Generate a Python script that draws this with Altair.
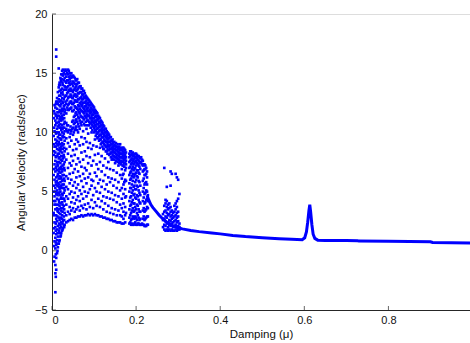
import altair as alt
import pandas as pd

# ---- chaotic region: columns of damping value and the velocities sampled there ----
CHAOS_X = [0.004, 0.006, 0.008, 0.010, 0.012, 0.014, 0.016, 0.018, 0.020, 0.022,
           0.024, 0.026, 0.028, 0.030, 0.034, 0.038, 0.042, 0.046, 0.050, 0.054,
           0.058, 0.062, 0.066, 0.070, 0.074, 0.078, 0.082, 0.086, 0.090, 0.094,
           0.098, 0.102, 0.106, 0.110, 0.114, 0.118, 0.122, 0.126, 0.130, 0.134,
           0.138, 0.142, 0.146, 0.150, 0.154, 0.158, 0.162, 0.166, 0.170, 0.174,
           0.184, 0.188, 0.192, 0.196, 0.200, 0.204, 0.208, 0.212, 0.216, 0.220,
           0.224, 0.228]
CHAOS_Y = [
    [1.5, 3.2, 5.0, 6.4, 8.1, 9.7, 11.2],
    [-0.5, 0.8, 2.4, 3.9, 4.6, 6.0, 7.3, 8.8, 10.1, 11.6, 12.3],
    [-3.5, -1.9, -1.2, 0.2, 1.1, 2.0, 3.5, 4.2, 5.3, 6.7, 7.6, 8.3, 9.4, 10.6, 11.0, 12.1],
    [-1.6, -0.6, 0.5, 1.4, 2.7, 3.0, 4.8, 5.6, 6.2, 7.1, 8.0, 9.1, 9.9, 10.8, 11.5, 12.6, 16.4, 17.0],
    [-0.2, 0.9, 1.8, 2.5, 3.6, 4.4, 5.1, 5.9, 6.8, 7.5, 8.6, 9.3, 10.3, 11.2, 12.0, 12.9],
    [0.3, 1.2, 2.1, 3.3, 3.9, 4.9, 5.7, 6.5, 7.2, 8.2, 8.9, 9.6, 10.5, 11.4, 12.4, 13.4],
    [0.6, 1.5, 2.8, 3.5, 4.3, 5.4, 6.1, 6.9, 7.8, 8.5, 9.2, 10.0, 10.9, 11.7, 12.8, 13.8, 15.4],
    [0.9, 1.9, 2.6, 3.8, 4.7, 5.2, 6.3, 7.0, 7.9, 8.7, 9.5, 10.4, 11.1, 11.9, 12.6, 13.5, 14.2],
    [1.2, 2.2, 3.1, 4.0, 5.0, 5.8, 6.6, 7.4, 8.4, 9.0, 9.8, 10.7, 11.3, 12.2, 13.1, 14.0, 14.6],
    [1.5, 2.4, 3.4, 4.5, 5.5, 6.2, 7.1, 8.0, 8.8, 9.4, 10.2, 11.0, 11.6, 12.4, 13.3, 14.3, 14.9],
    [1.7, 2.7, 3.0, 4.1, 4.8, 5.9, 6.7, 7.6, 8.3, 9.1, 10.0, 10.6, 11.4, 12.0, 12.9, 13.7, 14.5, 15.2],
    [1.9, 2.5, 3.6, 4.4, 5.3, 6.0, 6.9, 7.8, 8.6, 9.7, 10.4, 11.2, 11.9, 12.5, 13.2, 14.0, 14.8, 15.3],
    [2.1, 2.9, 3.8, 4.9, 5.6, 6.4, 7.3, 8.1, 9.0, 9.9, 10.7, 11.5, 12.2, 12.8, 13.6, 14.4, 15.0],
    [2.2, 3.2, 4.2, 5.1, 5.9, 6.8, 7.5, 8.4, 9.3, 10.1, 10.9, 11.7, 12.3, 13.0, 13.9, 14.6, 15.2],
    [2.4, 3.0, 3.9, 4.6, 5.4, 6.3, 7.7, 8.6, 9.5, 10.3, 10.8, 11.6, 12.4, 13.1, 13.6, 14.2, 14.7, 15.2],
    [2.5, 3.3, 4.4, 5.2, 6.1, 7.0, 8.2, 9.1, 10.0, 10.6, 11.9, 12.3, 12.9, 13.4, 13.9, 14.4, 14.9, 15.3],
    [2.6, 3.1, 3.7, 4.8, 5.7, 6.5, 7.4, 8.8, 9.6, 10.2, 12.0, 12.5, 13.0, 13.5, 14.0, 14.5, 15.0],
    [2.7, 3.4, 4.1, 5.0, 6.0, 7.2, 8.0, 9.3, 10.1, 12.1, 12.6, 13.1, 13.6, 14.1, 14.6, 15.0],
    [2.6, 3.6, 4.5, 5.5, 6.6, 7.6, 8.5, 9.8, 10.4, 11.0, 11.8, 12.4, 12.9, 13.4, 13.9, 14.3, 14.8],
    [2.8, 3.3, 4.0, 4.9, 5.8, 6.9, 8.1, 9.0, 10.2, 10.8, 11.4, 12.2, 12.7, 13.2, 13.7, 14.1, 14.6],
    [2.8, 3.5, 4.3, 5.3, 6.2, 7.3, 8.6, 9.4, 10.5, 11.1, 11.7, 12.1, 12.6, 13.0, 13.5, 13.9, 14.4],
    [2.9, 3.7, 4.6, 5.6, 6.7, 7.8, 9.2, 10.0, 10.7, 11.3, 11.9, 12.3, 12.8, 13.3, 13.7, 14.2],
    [2.9, 3.4, 4.2, 5.1, 6.3, 7.5, 8.9, 10.3, 11.0, 11.6, 12.0, 12.5, 12.9, 13.4, 13.9],
    [3.0, 3.8, 4.8, 5.9, 7.1, 8.3, 9.6, 10.6, 11.3, 11.8, 12.2, 12.6, 13.0, 13.4, 13.7],
    [2.9, 3.6, 4.4, 5.4, 6.5, 7.7, 9.0, 10.1, 11.2, 11.7, 12.1, 12.5, 12.8, 13.2, 13.5],
    [3.0, 3.9, 5.0, 6.1, 7.0, 8.4, 9.5, 10.6, 11.4, 11.8, 12.2, 12.5, 12.9, 13.3],
    [3.0, 3.5, 4.6, 5.7, 6.8, 8.0, 9.2, 10.3, 11.2, 11.6, 12.0, 12.3, 12.7, 13.0],
    [3.1, 4.0, 4.9, 6.2, 7.4, 8.7, 9.9, 11.0, 11.4, 11.8, 12.1, 12.5, 12.8],
    [3.0, 3.7, 5.2, 6.5, 7.9, 9.1, 10.8, 11.2, 11.6, 11.9, 12.3, 12.6],
    [3.1, 4.3, 5.5, 6.0, 7.2, 8.6, 10.0, 10.7, 11.0, 11.4, 11.7, 12.0, 12.4],
    [3.0, 3.6, 4.7, 5.9, 7.6, 8.9, 10.5, 10.9, 11.2, 11.5, 11.9, 12.2],
    [3.1, 4.1, 5.3, 6.6, 8.1, 9.4, 10.2, 10.6, 11.0, 11.3, 11.6, 11.9],
    [3.0, 3.8, 5.0, 6.3, 7.3, 8.8, 9.9, 10.3, 10.7, 11.0, 11.3, 11.7],
    [3.0, 4.4, 5.7, 6.9, 8.2, 9.6, 10.0, 10.4, 10.7, 11.1, 11.4],
    [2.9, 3.7, 4.9, 6.0, 7.5, 8.7, 9.4, 9.8, 10.2, 10.5, 10.8, 11.2],
    [2.9, 4.2, 5.4, 6.7, 8.0, 9.1, 9.6, 10.0, 10.3, 10.6, 10.9],
    [2.8, 3.5, 4.6, 5.9, 7.2, 8.6, 9.2, 9.6, 9.9, 10.2, 10.6],
    [2.8, 4.0, 5.2, 6.4, 7.8, 8.9, 9.3, 9.7, 10.0, 10.3],
    [2.7, 3.3, 4.5, 5.6, 7.0, 8.4, 8.8, 9.2, 9.5, 9.8, 10.1],
    [2.7, 3.8, 5.0, 6.2, 7.5, 8.5, 8.9, 9.2, 9.5, 9.9],
    [2.6, 3.2, 4.4, 5.8, 6.9, 8.2, 8.6, 8.9, 9.2, 9.6],
    [2.6, 3.6, 4.9, 6.1, 7.7, 8.3, 8.7, 9.0, 9.3],
    [2.5, 3.1, 4.3, 5.5, 6.8, 8.0, 8.4, 8.8, 9.1],
    [2.5, 3.5, 4.7, 6.0, 7.4, 7.9, 8.3, 8.6, 8.9],
    [2.4, 3.0, 4.1, 5.3, 6.6, 7.8, 8.1, 8.5, 8.8],
    [2.4, 3.4, 4.6, 5.8, 7.2, 7.7, 8.0, 8.3, 8.7],
    [2.4, 3.0, 3.9, 5.1, 6.4, 7.5, 7.9, 8.2, 8.5, 9.0],
    [2.3, 2.9, 3.6, 4.4, 5.3, 6.1, 6.9, 7.5, 7.9, 8.2, 8.6],
    [2.3, 2.7, 3.3, 4.0, 4.8, 5.6, 6.5, 7.2, 7.6, 7.9, 8.3, 8.7],
    [2.4, 3.0, 3.7, 4.5, 5.2, 6.0, 6.8, 7.4, 7.8, 8.1, 8.5],
    [2.3, 2.8, 3.5, 4.2, 5.0, 5.7, 6.4, 7.0, 7.5, 7.9, 8.2],
    [2.2, 2.6, 3.2, 3.9, 4.6, 5.3, 6.1, 6.7, 7.3, 7.7, 8.1, 8.4],
    [2.2, 2.9, 3.6, 4.3, 5.1, 5.9, 6.5, 7.1, 7.6, 8.0, 8.3],
    [2.3, 2.7, 3.4, 4.0, 4.8, 5.5, 6.3, 6.9, 7.4, 7.8, 8.1],
    [2.2, 2.8, 3.5, 4.4, 5.2, 6.0, 6.6, 7.2, 7.6, 7.9, 8.2],
    [2.3, 3.0, 3.8, 4.6, 5.4, 6.2, 6.8, 7.3, 7.7, 8.0],
    [2.2, 2.6, 3.3, 4.1, 4.9, 5.8, 6.5, 7.1, 7.5, 7.9],
    [2.2, 7.5, 7.9],
    [2.2, 2.7, 3.4, 4.2, 5.0, 5.9, 6.7, 7.2, 7.6],
    [2.1, 2.6, 3.3, 4.0, 4.8, 5.6, 6.4, 6.9, 7.3],
    [2.1, 2.8, 3.5, 4.3, 5.1, 5.8, 6.5, 7.0],
    [2.2, 2.9, 3.6, 4.2, 4.7],
]

# ---- extra samples in between (dense left block, upper band, second block) ----
FILL_X = [0.005, 0.009, 0.013, 0.017, 0.021, 0.025, 0.029,
          0.032, 0.036, 0.040, 0.044, 0.048, 0.052, 0.056, 0.060, 0.064, 0.068,
          0.072, 0.076, 0.080, 0.084, 0.088, 0.092, 0.096, 0.100, 0.104, 0.108,
          0.112, 0.116, 0.120, 0.124, 0.128, 0.132, 0.136, 0.140, 0.144, 0.148,
          0.152, 0.156, 0.160, 0.164, 0.168, 0.172, 0.176,
          0.186, 0.190, 0.194, 0.198, 0.202, 0.206, 0.210, 0.214, 0.218, 0.222, 0.226]
FILL_Y = [
    [-0.9, 0.4, 1.9, 3.0, 4.2, 5.5, 6.9, 8.4, 9.0, 10.4, 11.8],
    [-2.2, -0.3, 0.7, 1.7, 2.3, 3.9, 5.0, 5.8, 7.0, 7.9, 8.8, 10.0, 11.4, 12.4],
    [0.0, 0.6, 1.5, 2.9, 3.4, 4.7, 5.5, 6.3, 7.3, 8.0, 9.0, 10.0, 10.8, 11.7, 12.6],
    [0.8, 1.7, 2.3, 3.2, 4.1, 4.9, 5.6, 6.7, 7.5, 8.2, 9.0, 9.8, 10.6, 11.4, 12.3, 13.1, 14.0],
    [1.3, 2.0, 2.8, 3.6, 4.4, 5.3, 6.1, 6.9, 7.7, 8.6, 9.4, 10.4, 11.2, 11.8, 12.7, 13.6, 14.4],
    [1.8, 2.3, 3.3, 3.9, 4.7, 5.6, 6.4, 7.2, 8.0, 8.9, 9.6, 10.3, 11.1, 11.8, 12.6, 13.4, 14.2, 14.9],
    [2.0, 2.6, 3.5, 4.4, 5.3, 6.1, 7.0, 7.9, 8.7, 9.6, 10.4, 11.2, 12.0],
    [11.9, 12.6, 13.1, 13.8, 14.3, 14.9, 15.3],
    [10.1, 10.6, 12.1, 12.7, 13.3, 13.8, 14.4, 15.0],
    [10.2, 11.9, 12.4, 13.0, 13.6, 14.2, 14.7, 15.2],
    [9.9, 10.5, 12.0, 12.6, 13.2, 13.7, 14.3, 14.8],
    [10.3, 10.9, 11.8, 12.4, 12.9, 13.5, 14.1, 14.7],
    [10.0, 10.7, 11.3, 11.9, 12.5, 13.1, 13.6, 14.2, 14.7],
    [10.4, 11.0, 11.6, 12.1, 12.7, 13.2, 13.8, 14.4],
    [10.2, 10.9, 11.5, 12.0, 12.6, 13.1, 13.6, 14.1, 14.5],
    [10.5, 11.2, 11.7, 12.2, 12.8, 13.3, 13.8, 14.2],
    [10.8, 11.4, 11.9, 12.4, 12.9, 13.4, 13.9],
    [10.9, 11.3, 11.8, 12.3, 12.8, 13.2, 13.7],
    [10.7, 11.1, 11.6, 12.0, 12.5, 13.0, 13.5],
    [10.9, 11.3, 11.8, 12.2, 12.6, 13.1],
    [10.6, 11.0, 11.5, 12.0, 12.4, 12.9],
    [10.6, 10.9, 11.4, 11.8, 12.3, 12.7],
    [10.4, 10.8, 11.2, 11.7, 12.1, 12.5],
    [10.2, 10.6, 11.0, 11.5, 11.9, 12.3],
    [10.0, 10.4, 10.8, 11.2, 11.7, 12.1],
    [9.7, 10.1, 10.5, 10.9, 11.4, 11.8],
    [9.5, 9.9, 10.3, 10.7, 11.1, 11.6],
    [9.3, 9.7, 10.1, 10.5, 10.9, 11.3],
    [9.0, 9.4, 9.8, 10.2, 10.6, 11.0],
    [8.8, 9.2, 9.6, 10.0, 10.4, 10.8],
    [8.6, 9.0, 9.4, 9.8, 10.2, 10.5],
    [8.4, 8.8, 9.2, 9.6, 10.0, 10.3],
    [8.2, 8.6, 9.0, 9.4, 9.7, 10.0],
    [8.1, 8.5, 8.8, 9.2, 9.5, 9.8],
    [7.9, 8.3, 8.6, 9.0, 9.3, 9.6],
    [7.8, 8.1, 8.5, 8.8, 9.1, 9.4],
    [7.7, 8.0, 8.3, 8.6, 8.9, 9.2],
    [7.6, 7.9, 8.2, 8.5, 8.8, 9.1],
    [7.5, 7.8, 8.1, 8.4, 8.7, 9.0],
    [7.4, 7.7, 8.0, 8.3, 8.6, 8.8],
    [7.3, 7.6, 7.9, 8.2, 8.5, 8.7],
    [6.4, 7.2, 7.5, 7.8, 8.1, 8.4, 8.7],
    [5.8, 7.1, 7.4, 7.7, 8.0, 8.3, 8.6],
    [3.2, 4.6, 5.9, 7.0, 7.3, 7.6, 7.9, 8.3],
    [2.4, 3.0, 3.8, 4.5, 5.3, 6.0, 6.6, 7.1, 7.6, 8.0, 8.4],
    [2.3, 2.7, 3.4, 4.1, 4.9, 5.6, 6.3, 6.9, 7.4, 7.8, 8.2],
    [2.2, 2.8, 3.3, 4.0, 4.7, 5.4, 6.2, 6.8, 7.3, 7.7, 8.1],
    [2.4, 2.9, 3.7, 4.5, 5.2, 5.8, 6.5, 7.0, 7.5, 7.9, 8.2],
    [2.2, 2.6, 3.2, 3.9, 4.7, 5.5, 6.3, 6.8, 7.4, 7.8, 8.1],
    [2.3, 2.8, 3.5, 4.3, 5.1, 5.9, 6.6, 7.2, 7.6, 8.0],
    [2.2, 2.7, 3.3, 4.0, 4.7, 5.5, 6.9, 7.4, 7.8],
    [2.3, 7.3, 7.7],
    [2.2, 2.9, 3.6, 4.5, 5.3, 6.1, 6.8, 7.3],
    [2.1, 2.7, 3.4, 4.1, 4.9, 5.7, 6.4, 6.9, 7.2],
    [2.2, 2.9, 3.7, 4.4, 5.0, 5.6, 6.2, 6.7],
]

# ---- second chaotic cluster near mu = 0.27-0.30 ----
CLUSTER_X = [0.264, 0.267, 0.270, 0.273, 0.276, 0.279, 0.282, 0.285,
             0.288, 0.291, 0.294, 0.297, 0.300, 0.303]
CLUSTER_Y = [
    [2.0, 2.6, 3.1],
    [1.8, 2.2, 2.7, 3.3, 3.8, 7.0],
    [1.7, 2.1, 2.5, 2.9, 3.4, 4.0, 4.3],
    [1.8, 2.3, 2.8, 3.2, 3.7, 4.2, 5.4],
    [1.7, 2.0, 2.4, 3.0, 3.5, 3.9],
    [1.8, 2.2, 2.6, 3.1, 3.6, 4.0],
    [1.7, 2.1, 2.5, 2.9, 3.3, 3.7, 5.5, 6.7],
    [1.8, 2.3, 2.7, 3.0, 3.4, 6.5],
    [1.7, 2.0, 2.4, 2.8, 3.2],
    [1.7, 2.1, 2.5, 2.9, 3.3, 3.8],
    [1.8, 2.2, 2.6, 3.0, 3.5, 4.0, 6.5],
    [1.7, 2.0, 2.4, 2.8, 3.2, 3.7, 4.2, 6.2],
    [1.8, 2.1, 2.5, 2.9, 3.3, 4.4, 6.0],
    [1.8, 2.0, 2.3, 4.8],
]

# ---- periodic (single-valued) branch ----
CURVE_X = [0.226, 0.230, 0.235, 0.240, 0.247, 0.255, 0.262, 0.270, 0.285, 0.300,
           0.310, 0.330, 0.350, 0.380, 0.400, 0.430, 0.460, 0.500, 0.540, 0.570,
           0.595, 0.601, 0.605, 0.608, 0.611, 0.613, 0.615, 0.618, 0.621, 0.625,
           0.632, 0.650, 0.700, 0.727, 0.730, 0.800, 0.850, 0.900, 0.905, 0.950, 1.000]
CURVE_Y = [4.7, 4.3, 3.9, 3.65, 3.35, 3.0, 2.75, 2.5, 2.15, 1.95,
           1.85, 1.72, 1.62, 1.5, 1.43, 1.3, 1.2, 1.1, 1.02, 0.97,
           0.94, 1.1, 1.6, 2.4, 3.4, 3.9, 3.3, 2.2, 1.4, 1.05,
           0.9, 0.88, 0.86, 0.85, 0.82, 0.8, 0.78, 0.76, 0.7, 0.68, 0.66]

X_TICKS = [0, 0.2, 0.4, 0.6, 0.8]
Y_TICKS = [-5, 0, 5, 10, 15, 20]

BLUE = "#0000ff"
AXIS_COLOR = "#262626"
FONT = "Liberation Sans"
W, H = 418, 296

rows = []
for xs, ys in ((CHAOS_X, CHAOS_Y), (FILL_X, FILL_Y), (CLUSTER_X, CLUSTER_Y)):
    for xv, col in zip(xs, ys):
        for yv in col:
            rows.append({"x": xv, "y": yv})
pts = pd.DataFrame(rows)
curve = pd.DataFrame({"x": CURVE_X, "y": CURVE_Y})
xt = pd.DataFrame({"x": X_TICKS})
yt = pd.DataFrame({"y": Y_TICKS})

xscale = alt.Scale(domain=[0, 0.994], nice=False, zero=False)
yscale = alt.Scale(domain=[-5, 20], nice=False, zero=False)

xaxis = alt.Axis(values=X_TICKS, format="~g", grid=False, ticks=False,
                 domainColor=AXIS_COLOR, labelColor="#111", labelFont=FONT,
                 labelFontSize=11, labelPadding=4, title="Damping (\u03bc)",
                 titleFont=FONT, titleFontSize=11.5, titleFontWeight="normal",
                 titleColor="#111", titleX=209, titleY=24, titleBaseline="middle")
yaxis = alt.Axis(values=Y_TICKS, format="~g", grid=False, ticks=False,
                 domainColor=AXIS_COLOR, labelColor="#111", labelFont=FONT,
                 labelFontSize=11, labelPadding=5,
                 title="Angular Velocity (rads/sec)", titleFont=FONT,
                 titleFontSize=11.5, titleFontWeight="normal", titleColor="#111",
                 titleX=-31, titleY=148, titleBaseline="middle", titleAngle=270)

scatter = alt.Chart(pts).mark_square(size=7, color=BLUE, opacity=1, filled=True).encode(
    x=alt.X("x:Q", scale=xscale, axis=xaxis),
    y=alt.Y("y:Q", scale=yscale, axis=yaxis),
)

line = alt.Chart(curve).mark_line(color=BLUE, strokeWidth=3, clip=True).encode(
    x=alt.X("x:Q", scale=xscale),
    y=alt.Y("y:Q", scale=yscale),
)

yticks = alt.Chart(yt).mark_tick(orient="horizontal", size=4, thickness=1,
                                 xOffset=2, color=AXIS_COLOR).encode(
    y=alt.Y("y:Q", scale=yscale), x=alt.value(0))

xticks = alt.Chart(xt).mark_tick(orient="vertical", size=4, thickness=1,
                                 yOffset=-2, color=AXIS_COLOR).encode(
    x=alt.X("x:Q", scale=xscale), y=alt.value(H))

chart = alt.layer(line, scatter, yticks, xticks).properties(
    width=W, height=H,
    autosize=alt.AutoSizeParams(type="none"),
    padding={"left": 52, "top": 14, "right": 0, "bottom": 33},
).configure_view(stroke=None).configure(background="white")

chart.save("out.html", embed_options={"renderer": "svg", "actions": False})
